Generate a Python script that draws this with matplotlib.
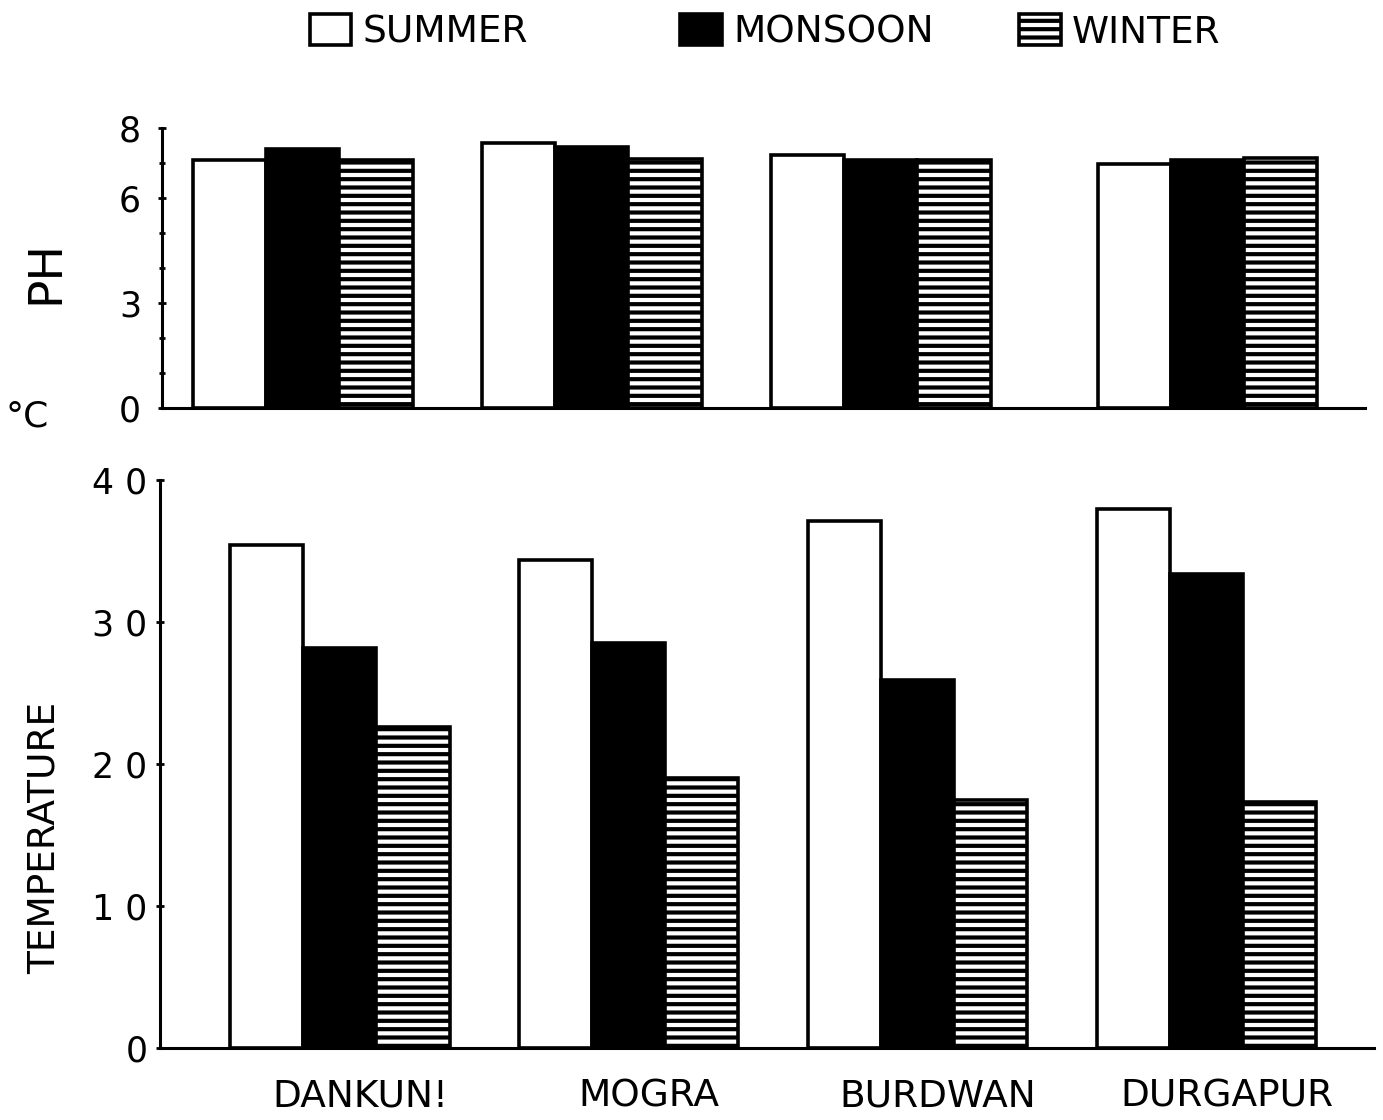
import numpy as np
import matplotlib
matplotlib.use('Agg')
import matplotlib.pyplot as plt
from matplotlib.patches import Patch

plt.rcParams['font.family'] = ['DejaVu Sans']
plt.rcParams['hatch.linewidth'] = 3.0
plt.rcParams['hatch.color'] = 'black'

# data
sites = ['DANKUN!', 'MOGRA', 'BURDWAN', 'DURGAPUR']
seasons = ['SUMMER', 'MONSOON', 'WINTER']
ph_summer = [7.09, 7.57, 7.23, 6.97]
ph_monsoon = [7.40, 7.46, 7.09, 7.09]
ph_winter = [7.07, 7.11, 7.09, 7.14]
temp_summer = [35.4, 34.4, 37.1, 38.0]
temp_monsoon = [28.2, 28.5, 25.9, 33.4]
temp_winter = [22.6, 19.0, 17.5, 17.3]

ph_ticks = [0, 3, 6, 8]
temp_ticks = [0, 10, 20, 30, 40]

# layout (group centres in group units, the pH panel is a bit uneven)
ph_pos = np.array([0, 1.0, 2.0, 3.13])
temp_pos = np.arange(4)
w = 0.253
styles = [dict(color='white', hatch=None),
          dict(color='black', hatch=None),
          dict(color='white', hatch='--')]

fig = plt.figure(figsize=(13.83, 11.2), dpi=100)
ax1 = fig.add_axes([0.117, 0.636, 0.870, 0.250])
ax2 = fig.add_axes([0.1157, 0.0643, 0.878, 0.507])

def draw(ax, pos, series):
    for i, (vals, st) in enumerate(zip(series, styles)):
        ax.bar(pos + (i - 1) * w, vals, w, color=st['color'], hatch=st['hatch'],
               edgecolor='black', linewidth=2.6)
    for s in ['top', 'right']:
        ax.spines[s].set_visible(False)
    for s in ['left', 'bottom']:
        ax.spines[s].set_linewidth(2.2)
    ax.tick_params(axis='y', direction='inout', length=6, width=2, labelsize=25, pad=12)

draw(ax1, ph_pos, [ph_summer, ph_monsoon, ph_winter])
ax1.set_xlim(-0.488, 3.675)
ax1.set_ylim(0, 8)
ax1.set_yticks(ph_ticks)
ax1.set_yticks(np.arange(0, 9), minor=True)
ax1.tick_params(axis='y', which='minor', direction='inout', length=5, width=2)
ax1.set_xticks([])

draw(ax2, temp_pos, [temp_summer, temp_monsoon, temp_winter])
ax2.set_xlim(-0.623, 3.581)
ax2.set_ylim(0, 40)
ax2.set_yticks(temp_ticks)
ax2.set_yticklabels(['0', '1 0', '2 0', '3 0', '4 0'])
ax2.tick_params(axis='y', pad=6)
ax2.set_xticks(temp_pos + 0.07)
ax2.set_xticklabels(sites, fontsize=27)
ax2.tick_params(axis='x', length=0, pad=22)

fig.text(0.033, 0.757, 'PH', rotation=90, fontsize=34, ha='center', va='center')
fig.text(0.020, 0.628, '°C', fontsize=26, ha='center', va='center')
fig.text(0.032, 0.252, 'TEMPERATURE', rotation=90, fontsize=27, ha='center', va='center')

# one legend entry per season, placed where the reference has them
legend_x = [0.224, 0.492, 0.737]
for st, name, x in zip(styles, seasons, legend_x):
    h = Patch(facecolor=st['color'], hatch=st['hatch'], edgecolor='black', linewidth=2.6)
    fig.legend([h], [name], loc='center left', bbox_to_anchor=(x, 0.971),
               frameon=False, fontsize=27, handlelength=1.1, handleheight=0.9,
               handletextpad=0.3, borderpad=0, borderaxespad=0)

fig.savefig('out.png', dpi=100)
